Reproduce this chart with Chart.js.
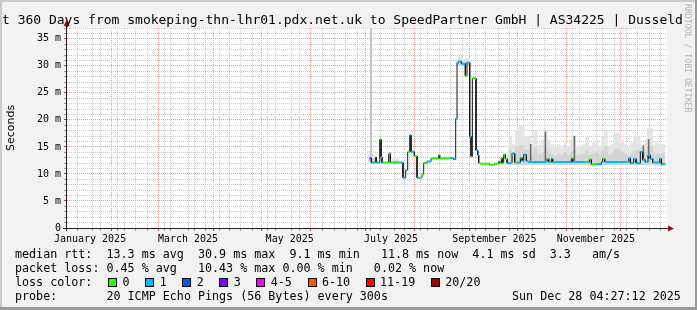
<!DOCTYPE html>
<html><head><meta charset="utf-8">
<script src="https://cdn.jsdelivr.net/npm/chart.js@4/dist/chart.umd.min.js"></script>
<style>
html,body{margin:0;padding:0;background:#f2f2f2;}
#wrap{position:relative;width:697px;height:310px;overflow:hidden;background:#f2f2f2;}
#c{position:absolute;left:0;top:0;}
.t{position:absolute;white-space:pre;font-family:'DejaVu Sans Mono',monospace;color:#000;}
.row{font-size:11.7px;line-height:14px;}
.box{position:absolute;width:9px;height:9px;box-sizing:border-box;border:1px solid #000;}
#wm{position:absolute;left:683px;top:4px;writing-mode:vertical-rl;font-family:'DejaVu Sans Mono',monospace;font-size:8.2px;line-height:9px;color:#b4b4b4;white-space:pre;}
</style></head><body>
<div id="wrap">
<canvas id="c" width="697" height="310"></canvas>
<div class="t" style="left:2px;top:13.3px;font-size:13px;line-height:13px;">t 360 Days from smokeping-thn-lhr01.pdx.net.uk to SpeedPartner GmbH | AS34225 | Dusseld</div>
<div id="wm">RRDTOOL / TOBI OETIKER</div>
<div class="t row" style="left:15px;top:247.3px;">median rtt:  13.3 ms avg  30.9 ms max  9.1 ms min   11.8 ms now  4.1 ms sd  3.3   am/s</div>
<div class="t row" style="left:15px;top:261.3px;">packet loss: 0.45 % avg   10.43 % max 0.00 % min   0.02 % now</div>
<div class="t row" style="left:15px;top:275.3px;">loss color:</div>
<div id="lossrow"></div>
<div class="t row" style="left:15px;top:289.3px;">probe:       20 ICMP Echo Pings (56 Bytes) every 300s</div>
<div class="t row" style="left:512px;top:289.3px;">Sun Dec 28 04:27:12 2025</div>
</div>
<script>
// ---------- data (x values are days since 2025-01-01 00:00) ----------
const lossLabels = ['0','1','2','3','4-5','6-10','11-19','20/20'];
const lossColors = ['#26ff00','#00b8ff','#0059ff','#7e00ff','#ff00ff','#ff5500','#ff0000','#a10000'];

const X_MIN = 1.185, X_MAX = 361.185;
const Y_MIN = 0, Y_MAX = 37;

const monthStartDays = [31, 59, 90, 120, 151, 181, 212, 243, 273, 304, 334];
const monthLabels = ['January 2025','March 2025','May 2025','July 2025','September 2025','November 2025'];
const monthLabelDays = [15.0, 73.8, 134.8, 195.6, 257.6, 318.5];
const firstSunday = 4;
const yLabelValues = [0, 5, 10, 15, 20, 25, 30, 35];
const yLabels = ['0','5 m','10 m','15 m','20 m','25 m','30 m','35 m'];

// median rtt (ms), step starts
const medDay = [182.8,183.8,185.2,186.2,186.8,188.8,189.6,190.2,191.2,194.2,
  195.2,197.2,198.2,200.8,202.8,204.4,205.6,206.8,207.6,209.6,
  211.2,212.8,214.2,215.2,217.2,219.6,224.2,224.8,231.2,233.2,
  234.4,235.2,236.2,237.8,240.2,241.2,242.8,243.6,244.4,246.6,
  247.6,248.2,249.2,254.6,257.6,260.2,260.8,261.8,262.4,263.2,
  264.2,265.2,267.2,268.2,269.8,271.4,273.2,274.2,275.2,276.8,
  277.8,289.2,290.2,291.8,292.6,293.2,303.8,304.6,312.2,313.2,
  314.6,315.8,318.8,321.8,322.6,323.8,337.2,338.2,339.2,341.2,
  342.6,345.2,346.6,348.2,349.8,351.2,352.6,356.8,357.8,359.0];
const medVal = [12.9,12.1,12.1,13.1,12.1,16.4,13.1,12.1,12.1,13.8,
  12.1,12.1,12.1,12.1,9.3,10.7,14.1,17.2,14.1,13.3,
  9.3,9.3,9.9,12.0,12.3,12.9,13.5,12.9,12.9,12.7,
  20.2,30.5,30.8,30.4,28.1,30.6,16.9,13.2,27.7,14.4,
  13.5,12.0,11.9,11.7,11.9,12.3,12.0,12.9,12.0,13.6,
  12.8,12.0,12.1,13.8,12.1,12.1,13.0,12.4,13.6,12.4,
  12.2,12.8,12.2,12.8,12.2,12.2,12.9,12.2,12.2,12.2,
  12.7,11.8,11.8,12.2,12.8,12.2,12.2,12.9,12.0,12.8,
  12.0,14.1,12.6,12.2,13.5,12.8,12.1,12.8,11.8,11.8];
const medLoss = [3,1,0,0,1,0,1,1,0,0,
  0,1,0,1,1,1,0,1,1,0,
  1,0,0,0,1,0,0,0,1,1,
  1,1,1,1,0,1,1,0,0,1,
  1,0,0,0,0,1,0,0,0,0,
  0,1,1,1,0,1,0,1,1,1,
  1,0,1,1,0,1,0,1,0,1,
  0,0,1,1,0,1,0,1,1,1,
  1,1,1,1,1,1,1,1,1,0];
const medEnd = 360.2;

// smoke (ping spread)
const smokeDay = [183.2,184.4,197.6,199.6,235.6,236.6,237.8,239.0,241.4,242.2,
  267.2,269.2,271.2,273.2,274.6,276.6,278.6,280.4,282.2,284.6,
  287.0,288.6,290.2,292.2,294.2,296.2,298.2,300.2,302.2,304.0,
  305.6,307.2,309.2,311.2,313.2,315.2,317.2,319.2,321.2,322.8,
  324.4,326.2,328.2,330.2,332.2,334.2,336.2,338.2,340.2,342.2,
  344.2,346.0,347.6,348.8,350.2,351.6,353.2,355.2,357.2,358.8];
const smokeLo = [12.3,12.2,12.0,12.0,30.1,30.2,30.1,29.9,30.0,30.1,
  11.7,11.7,11.7,11.7,11.7,11.7,11.7,11.7,11.7,11.7,
  11.7,11.7,11.7,11.7,11.7,11.7,11.7,11.7,11.7,11.7,
  11.7,11.7,11.7,11.7,11.7,11.6,11.6,11.6,11.7,11.7,
  11.7,11.7,11.7,11.7,11.7,11.7,11.7,11.7,11.7,11.7,
  11.7,11.7,11.7,11.7,11.7,11.7,11.7,11.6,11.6,11.6];
const smokeHi = [14.3,13.6,12.8,12.8,31.3,31.8,31.6,31.2,31.4,31.0,
  16.9,15.4,18.1,18.8,18.8,16.9,17.0,15.1,18.1,15.4,
  16.3,17.8,16.3,15.4,14.8,15.4,14.8,15.7,15.1,16.3,
  16.9,14.8,15.1,15.4,16.9,15.1,15.7,16.3,15.1,16.9,
  18.1,15.1,15.4,17.5,17.5,16.3,15.4,14.8,15.7,16.9,
  16.9,15.4,15.4,16.3,18.4,18.4,15.4,15.7,15.4,15.4];
const smokeMid = [13.2,12.8,12.4,12.4,30.8,31.1,31.0,30.7,30.8,30.6,
  14.4,13.6,15.0,15.3,15.2,14.4,14.5,13.5,14.8,13.7,
  14.0,14.6,14.1,13.7,13.4,13.7,13.4,13.9,13.5,14.0,
  14.4,13.4,13.5,13.7,14.4,13.5,13.8,14.1,13.5,14.4,
  15.0,13.5,13.7,14.7,14.7,14.1,13.7,13.4,13.8,14.3,
  14.4,13.7,13.7,14.0,15.1,15.0,13.7,13.8,13.7,13.6];
const spikeDay = [183.6];
const spikeLo = [12.9];
const spikeHi = [37.0];
const darkDay = [279.4, 288.2, 305.6, 347.0, 350.2];
const darkLo = [12.2, 12.3, 12.3, 12.6, 12.8];
const darkHi = [15.5, 17.8, 17.0, 15.2, 16.4];

// ---------- build library tables ----------
const MINOR = '#cbcbcb', MAJOR = '#eaa0a0';

const xTicks = [];
for (let d = firstSunday; d <= X_MAX; d += 7) {
  if (!monthStartDays.includes(d)) xTicks.push({v: d, kind: 'minor', label: ''});
}
monthStartDays.forEach(d => xTicks.push({v: d, kind: 'major', label: ''}));
monthLabelDays.forEach((d, i) => xTicks.push({v: d, kind: 'label', label: monthLabels[i]}));
xTicks.sort((a, b) => a.v - b.v);

const yTicks = [];
for (let v = Y_MIN; v <= Y_MAX; v++) {
  const k = yLabelValues.indexOf(v);
  yTicks.push({v: v, kind: k >= 0 ? 'major' : 'minor', label: k >= 0 ? yLabels[k] : ''});
}

const blackPts = [];
for (let i = 0; i < medDay.length; i++) {
  const next = i + 1 < medDay.length ? medDay[i + 1] : medEnd;
  blackPts.push({x: medDay[i], y: medVal[i]}, {x: next, y: medVal[i]});
}
const lossSets = [];
lossLabels.forEach((lab, L) => {
  const pts = [];
  for (let i = 0; i < medDay.length; i++) {
    if (medLoss[i] !== L) continue;
    const next = i + 1 < medDay.length ? medDay[i + 1] : medEnd;
    pts.push({x: medDay[i], y: medVal[i]}, {x: next, y: medVal[i]}, {x: next, y: null});
  }
  if (pts.length) lossSets.push({
    type: 'line', label: lab, data: pts, borderColor: lossColors[L], borderWidth: 2,
    pointRadius: 0, spanGaps: false, tension: 0, fill: false, borderCapStyle: 'butt', order: 1
  });
});

const floatBars = (days, lo, hi) => days.map((d, i) => ({x: d, y: [lo[i], hi[i]]}));
const datasets = [
  ...lossSets,
  {type: 'line', label: 'median', data: blackPts, borderColor: '#141414', borderWidth: 1,
   pointRadius: 0, tension: 0, fill: false, order: 2},
  {type: 'bar', label: 'spread dark', data: floatBars(darkDay, darkLo, darkHi), backgroundColor: '#727272',
   barThickness: 1, grouped: false, borderWidth: 0, order: 3},
  {type: 'bar', label: 'spread mid', data: floatBars(smokeDay, smokeLo, smokeMid), backgroundColor: '#d5d5d5',
   barThickness: 3, grouped: false, borderWidth: 0, order: 4},
  {type: 'bar', label: 'spread spike', data: floatBars(spikeDay, spikeLo, spikeHi), backgroundColor: '#c4c4c4',
   barThickness: 1.5, grouped: false, borderWidth: 0, order: 4},
  {type: 'bar', label: 'spread', data: floatBars(smokeDay, smokeLo, smokeHi), backgroundColor: '#e4e4e4',
   barThickness: 3, grouped: false, borderWidth: 0, order: 5}
];

// loss color legend row
(function () {
  const row = document.getElementById('lossrow');
  let bx = 108.3;
  lossLabels.forEach((lab, i) => {
    const b = document.createElement('div');
    b.className = 'box';
    b.style.left = bx + 'px'; b.style.top = '277.5px'; b.style.background = lossColors[i];
    row.appendChild(b);
    const t = document.createElement('div');
    t.className = 't row';
    t.style.left = (bx + 14.3) + 'px'; t.style.top = '275.3px';
    t.textContent = lab;
    row.appendChild(t);
    bx += 30 + 7.04 * lab.length;
  });
})();

const frame = {
  id: 'frame',
  beforeDraw(chart) {
    const {ctx, chartArea: a} = chart;
    ctx.save();
    ctx.fillStyle = '#f2f2f2'; ctx.fillRect(0, 0, chart.width, chart.height);
    ctx.fillStyle = '#ffffff'; ctx.fillRect(a.left, a.top, a.right - a.left, a.bottom - a.top);
    ctx.restore();
  },
  afterDraw(chart) {
    const {ctx, chartArea: a} = chart;
    const W = chart.width, H = chart.height;
    ctx.save();
    ctx.strokeStyle = '#202020'; ctx.lineWidth = 1;
    ctx.beginPath();
    ctx.moveTo(a.left - 4, a.bottom + 0.5); ctx.lineTo(a.right + 2, a.bottom + 0.5);
    ctx.moveTo(a.left - 0.5, a.bottom + 3); ctx.lineTo(a.left - 0.5, a.top - 2);
    ctx.stroke();
    ctx.fillStyle = '#9a1414';
    ctx.beginPath();
    ctx.moveTo(a.right + 1, a.bottom + 0.5 - 3); ctx.lineTo(a.right + 7, a.bottom + 0.5); ctx.lineTo(a.right + 1, a.bottom + 0.5 + 3);
    ctx.closePath(); ctx.fill();
    ctx.beginPath();
    ctx.moveTo(a.left - 0.5 - 3, a.top - 2); ctx.lineTo(a.left - 0.5, a.top - 8); ctx.lineTo(a.left - 0.5 + 3, a.top - 2);
    ctx.closePath(); ctx.fill();
    // 3D frame
    ctx.fillStyle = '#cbcbcb';
    ctx.fillRect(0, 0, W, 2); ctx.fillRect(0, 0, 2, H);
    ctx.fillStyle = '#999999';
    ctx.fillRect(0, H - 3, W, 3); ctx.fillRect(W - 2, 0, 2, H);
    ctx.restore();
  }
};

const mono = 'DejaVu Sans Mono';
new Chart(document.getElementById('c'), {
  type: 'line',
  data: {datasets},
  options: {
    responsive: false, animation: false, devicePixelRatio: 1,
    layout: {padding: {left: 0, top: 28, right: 30, bottom: 62}},
    plugins: {legend: {display: false}, tooltip: {enabled: false}, title: {display: false}},
    scales: {
      x: {
        type: 'linear', min: X_MIN, max: X_MAX, offset: false,
        afterBuildTicks: s => { s.ticks = xTicks.map(t => ({value: t.v})); },
        afterFit: s => { s.height = 20; },
        ticks: {autoSkip: false, maxRotation: 0, minRotation: 0, padding: 2, color: '#000',
          font: {family: mono, size: 10}, callback: (v, i) => xTicks[i] ? xTicks[i].label : ''},
        grid: {
          lineWidth: 1, drawTicks: true, tickLength: 3, tickBorderDash: [],
          color: c => { const k = xTicks[c.index] && xTicks[c.index].kind; return k === 'major' ? MAJOR : k === 'minor' ? MINOR : 'rgba(0,0,0,0)'; },
          tickColor: c => { const k = xTicks[c.index] && xTicks[c.index].kind; return k === 'major' ? '#d04040' : k === 'minor' ? '#9a9a9a' : 'rgba(0,0,0,0)'; }
        },
        border: {display: false, dash: [1, 1]}
      },
      y: {
        type: 'linear', min: Y_MIN, max: Y_MAX,
        afterBuildTicks: s => { s.ticks = yTicks.map(t => ({value: t.v})); },
        afterFit: s => { s.width = 67; },
        ticks: {autoSkip: false, padding: 3, color: '#000', font: {family: mono, size: 10},
          callback: (v, i) => yTicks[i] ? yTicks[i].label : ''},
        grid: {
          lineWidth: 1, drawTicks: true, tickLength: 3, tickBorderDash: [],
          color: c => (yTicks[c.index] && yTicks[c.index].kind === 'major') ? MAJOR : MINOR,
          tickColor: c => (yTicks[c.index] && yTicks[c.index].kind === 'major') ? '#c04040' : '#9a9a9a'
        },
        border: {display: false, dash: [1, 1]},
        title: {display: true, text: 'Seconds', color: '#000', font: {family: 'DejaVu Sans', size: 11},
          padding: {top: 4.6, bottom: 0}}
      }
    }
  },
  plugins: [frame]
});
</script>
</body></html>
